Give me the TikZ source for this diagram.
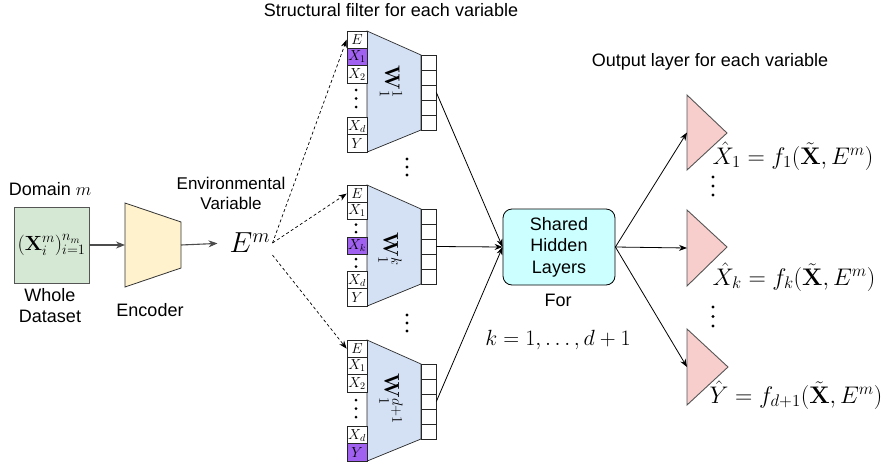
\RequirePackage{fix-cm}
\documentclass[tikz,border=0pt]{standalone}
\usepackage[no-math]{fontspec}
\setmainfont{Liberation Sans}
\usetikzlibrary{arrows.meta}
\definecolor{bluef}{HTML}{D4E1F5}
\definecolor{violetc}{HTML}{A060F0}
\definecolor{greenf}{HTML}{D5E8D4}
\definecolor{yellowf}{HTML}{FFF2CC}
\definecolor{cyanf}{HTML}{CCFFFF}
\definecolor{pinkf}{HTML}{F8CECC}
\definecolor{edgegray}{HTML}{555555}
\newcommand\rowy[2]{#1+(#2-0.5)*17.3}
\newcommand\filterbody[3]{%
  \draw[trap] (367,#2) -- (421,#2+24) -- (421,#2+99) -- (367,#2+121.1) -- cycle;
  \foreach \j in {0,...,4} \node[ocell] (#1o\j) at (428.5,{#2+31.5+15*\j}) {};
}
\begin{document}
\begin{tikzpicture}[x=1pt,y=-1pt,
  cell/.style={draw=black!85, line width=0.7pt, fill=white, minimum width=20pt, minimum height=17.3pt, inner sep=0pt, font=\fontsize{14.5}{14.5}\selectfont},
  pcell/.style={cell, fill=violetc},
  ocell/.style={draw=black!85, line width=0.7pt, fill=white, minimum width=15pt, minimum height=15pt, inner sep=0pt},
  trap/.style={draw=black!85, line width=0.7pt, fill=bluef},
  wlab/.style={rotate=-90, font=\fontsize{21}{21}\selectfont, inner sep=0pt},
  lab/.style={font=\fontsize{18}{21}\selectfont, align=center, inner sep=0pt},
  mathlab/.style={font=\fontsize{24}{24}\selectfont, inner sep=0pt},
  darr/.style={dash pattern=on 3pt off 2.5pt, line width=0.7pt, -{Stealth[length=8pt,width=6pt]}},
  sarr/.style={line width=0.8pt, -{Stealth[length=8pt,width=6pt]}},
  garr/.style={line width=1.1pt, draw=gray!60!black, -{Stealth[length=9pt,width=7pt]}},
  dotc/.style={fill=black}
]
\useasboundingbox (0,0) rectangle (884,469);

% titles
\node[lab] (t_struct) at (391,10) {Structural filter for each variable};
\node[lab] (t_out) at (710,62) {Output layer for each variable};

% domain data
\node[lab] (dom) at (50,189) {Domain $m$};
\node[draw=edgegray, line width=0.9pt, fill=greenf, minimum width=75pt, minimum height=76pt, inner sep=0pt, font=\fontsize{20.5}{20.5}\selectfont] (data) at (51.5,245) {$(\mathbf{X}_i^m)_{i=1}^{n_m}$};
\node[lab] (whole) at (50,306) {Whole\\Dataset};

% encoder
\draw[fill=yellowf, draw=black!80, line width=0.8pt] (125,203) -- (181,222) -- (181,268) -- (125,287) -- cycle;
\coordinate (encW) at (125,245);
\coordinate (encE) at (181,245);
\node[lab] (enclab) at (150,310) {Encoder};

% environmental variable
\node[lab, font=\fontsize{17}{20}\selectfont] (envlab) at (231,193) {Environmental\\Variable};
\node[font=\fontsize{29}{29}\selectfont, inner sep=2pt] (Em) at (250,243) {$E^m$};

\draw[garr] (data.east) -- (encW);
\draw[garr, shorten >=10pt] (encE) -- (Em.west);

% filter 1
\filterbody{fa}{31}{1}
\node[wlab] (faW) at (391,82) {$\mathbf{W}_1^{1}$};
\node[cell] (faE) at (357,{\rowy{31}{1}}) {$E$};
\node[pcell] (faX1) at (357,{\rowy{31}{2}}) {$X_1$};
\node[cell] (faX2) at (357,{\rowy{31}{3}}) {$X_2$};
\node[cell] (faXd) at (357,{\rowy{31}{6}}) {$X_d$};
\node[cell] (faY) at (357,{\rowy{31}{7}}) {$Y$};
\foreach \yy in {90,98.5,107} \fill[dotc] (356,\yy) circle (1.5pt);

% filter 2
\filterbody{fb}{185}{k}
\node[wlab] (fbW) at (390,249) {$\mathbf{W}_1^{k}$};
\node[cell] (fbE) at (357,{\rowy{185}{1}}) {$E$};
\node[cell] (fbX1) at (357,{\rowy{185}{2}}) {$X_1$};
\node[pcell] (fbXk) at (357,{\rowy{185}{4}}) {$X_k$};
\node[cell] (fbXd) at (357,{\rowy{185}{6}}) {$X_d$};
\node[cell] (fbY) at (357,{\rowy{185}{7}}) {$Y$};
\foreach \yy in {224.5,232,259,266.5} \fill[dotc] (356,\yy) circle (1.5pt);

% filter 3
\filterbody{fc}{340}{d+1}
\node[wlab] (fcW) at (391,399) {$\mathbf{W}_1^{d+1}$};
\node[cell] (fcE) at (357,{\rowy{340}{1}}) {$E$};
\node[cell] (fcX1) at (357,{\rowy{340}{2}}) {$X_1$};
\node[cell] (fcX2) at (357,{\rowy{340}{3}}) {$X_2$};
\node[cell] (fcXd) at (357,{\rowy{340}{6}}) {$X_d$};
\node[pcell] (fcY) at (357,{\rowy{340}{7}}) {$Y$};
\foreach \yy in {400,408.5,417} \fill[dotc] (356,\yy) circle (1.5pt);

% dots between filters
\foreach \yy in {159,167,175} \fill[dotc] (407,\yy) circle (1.7pt);
\foreach \yy in {315,323,331} \fill[dotc] (407,\yy) circle (1.7pt);

% dashed inputs
\draw[darr] (Em.east) -- (faE.west);
\draw[darr] (Em.east) -- (fbE.west);
\draw[darr] (Em.south east) -- (fcE.west);

% shared hidden layers
\node[draw=black, line width=0.8pt, fill=cyanf, rounded corners=9pt, minimum width=112pt, minimum height=76pt, align=center, font=\fontsize{18}{21.5}\selectfont] (shared) at (559,247) {Shared\\Hidden\\Layers};
\node[lab] (forlab) at (558,300) {For};
\node[font=\fontsize{22}{22}\selectfont, inner sep=0pt] (klab) at (558,340) {$k=1,\dots,d+1$};

\draw[sarr] (fao2.east) -- (shared.west);
\draw[sarr] (fbo2.east) -- (shared.west);
\draw[sarr] (fco2.east) -- (shared.west);

% output triangles
\draw[fill=pinkf, draw=edgegray, line width=0.9pt] (687,95) -- (727,133) -- (687,170) -- cycle;
\draw[fill=pinkf, draw=edgegray, line width=0.9pt] (687,210) -- (727,247) -- (687,286) -- cycle;
\draw[fill=pinkf, draw=edgegray, line width=0.9pt] (687,329) -- (728,367) -- (687,405) -- cycle;
\coordinate (tri1) at (687,132.5);
\coordinate (tri2) at (687,248);
\coordinate (tri3) at (687,367);

\draw[sarr] (shared.east) -- (tri1);
\draw[sarr] (shared.east) -- (tri2);
\draw[sarr] (shared.east) -- (tri3);

\node[mathlab] (out1) at (793,156) {$\hat{X}_1 = f_1(\tilde{\mathbf{X}}, E^m)$};
\node[mathlab] (out2) at (794,277) {$\hat{X}_k = f_k(\tilde{\mathbf{X}}, E^m)$};
\node[mathlab] (out3) at (796,395) {$\hat{Y} = f_{d+1}(\tilde{\mathbf{X}}, E^m)$};

\foreach \yy in {177,186,195} \fill[dotc] (713,\yy) circle (1.7pt);
\foreach \yy in {307,316.5,326} \fill[dotc] (713,\yy) circle (1.7pt);
\end{tikzpicture}
\end{document}
